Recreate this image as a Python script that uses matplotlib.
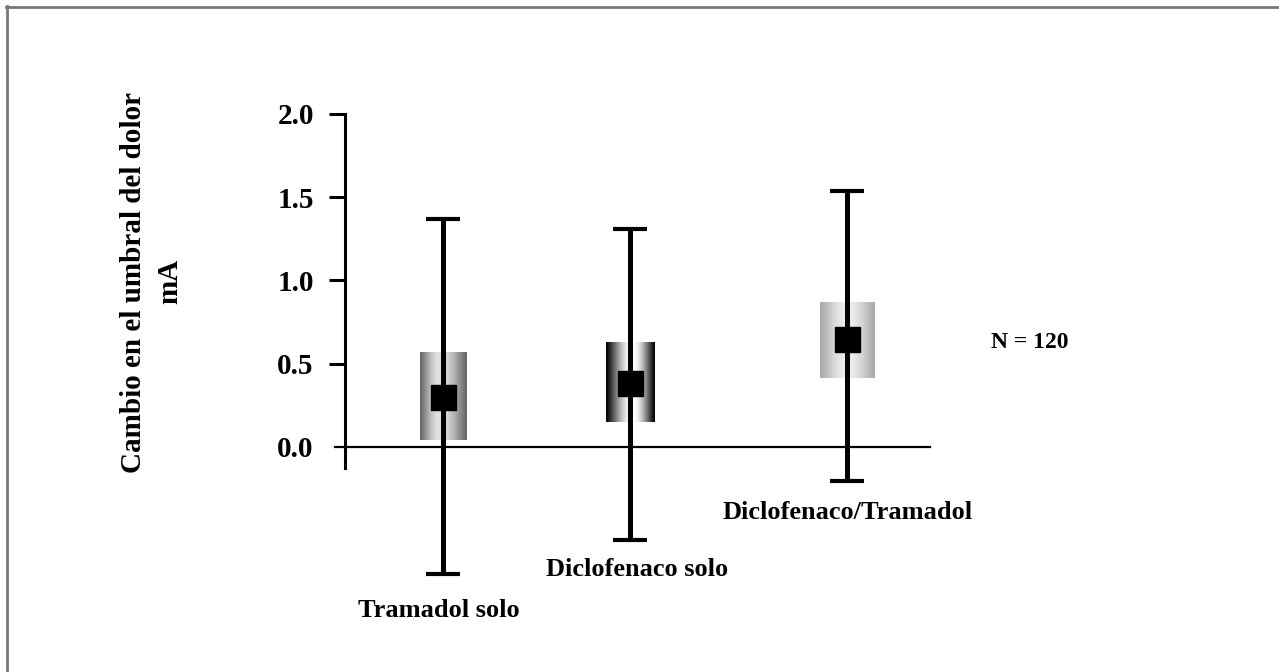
import numpy as np
import matplotlib.pyplot as plt
from matplotlib.lines import Line2D

plt.rcParams['font.family'] = ['Liberation Serif', 'DejaVu Serif']
plt.rcParams['font.weight'] = 'bold'

# datos
grupos = ['Tramadol solo', 'Diclofenaco solo', 'Diclofenaco/Tramadol']
media = [0.30, 0.385, 0.65]
minimo = [-0.76, -0.56, -0.205]
maximo = [1.37, 1.31, 1.535]
caja_inf = [0.04, 0.15, 0.415]
caja_sup = [0.566, 0.626, 0.867]
n_texto = 'N = 120'

# posiciones / estilo
xpos = [1.0, 2.0, 3.16]
ancho = [0.25, 0.26, 0.29]
grad = [(0.40, 0.88, 0.42), (0.0, 1.0, 0.55), (0.66, 0.93, 0.5)]  # borde, centro, pico

fig = plt.figure(figsize=(12.79, 6.72), dpi=100)
ax = fig.add_axes([0.0, 0.0871, 1.0, 0.7929])
ax.set_xlim(1 - 443 / 187, 1 + (1279 - 443) / 187)
ax.set_ylim(-1.0, 2.2)

for i in range(3):
    t = np.linspace(0, 1, 200)
    e, c, p = grad[i]
    d = np.where(t < p, (p - t) / p, (t - p) / (1 - p))
    v = e + (c - e) * np.cos(d * np.pi / 2) ** 1.2
    x0 = xpos[i] - ancho[i] / 2
    ax.imshow(v[None, :], cmap='gray', vmin=0, vmax=1, aspect='auto',
              extent=[x0, x0 + ancho[i], caja_inf[i], caja_sup[i]], zorder=1)
    ax.errorbar(xpos[i], media[i],
                yerr=[[media[i] - minimo[i]], [maximo[i] - media[i]]],
                fmt='none', ecolor='black', elinewidth=3.6, capsize=12,
                capthick=3.0, zorder=2)
    ax.plot(xpos[i], media[i], marker='s', ms=18, color='black', zorder=3)

for s in ['top', 'right']:
    ax.spines[s].set_visible(False)
ax.spines['left'].set_position(('data', 1 - 98 / 187))
ax.spines['left'].set_bounds(-0.126, 2.0)
ax.spines['left'].set_linewidth(2.2)
ax.spines['bottom'].set_position(('data', 0))
ax.spines['bottom'].set_bounds(1 - 108 / 187, 1 + 487 / 187)
ax.spines['bottom'].set_linewidth(1.6)
ax.set_xticks([])
ax.set_yticks([0, 0.5, 1.0, 1.5, 2.0])
ax.set_yticklabels(['0.0', '0.5', '1.0', '1.5', '2.0'])
ax.tick_params(axis='y', length=11.5, width=2.2, pad=11, labelsize=21)
ax.yaxis.get_major_ticks()[0].tick1line.set_visible(False)
ax.patch.set_visible(False)

fig.text(0.104, 0.580, 'Cambio en el umbral del dolor', rotation=90,
         ha='center', va='center', fontsize=21, fontweight='bold')
fig.text(0.133, 0.582, 'mA', rotation=90, ha='center', va='center',
         fontsize=21, fontweight='bold')

lab_xy = [(0.343, 0.092), (0.498, 0.152), (0.663, 0.238)]
for g, (lx, ly) in zip(grupos, lab_xy):
    fig.text(lx, ly, g, ha='center', va='center', fontsize=19, fontweight='bold')
fig.text(0.805, 0.491, n_texto, ha='center', va='center', fontsize=17,
         fontweight='bold')

# marco
fig.add_artist(Line2D([6 / 1279, 1], [1 - 7 / 672] * 2, color='#777777', lw=2))
fig.add_artist(Line2D([7 / 1279] * 2, [0, 1 - 6 / 672], color='#777777', lw=2))

fig.savefig('out.png', dpi=100)
